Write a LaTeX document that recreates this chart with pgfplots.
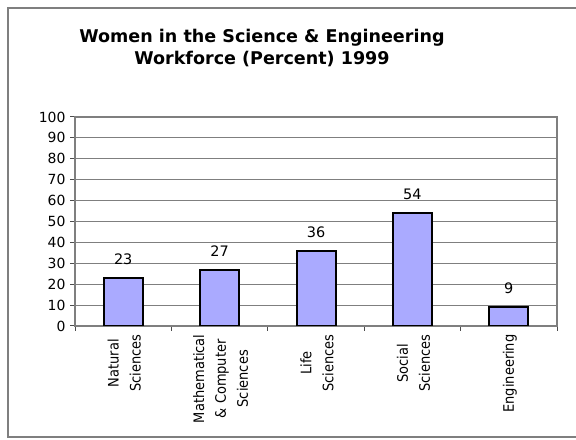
\documentclass[border=0pt]{standalone}
\usepackage{fontspec}
\setmainfont{DejaVu Sans}
\newfontfamily\labfont{DejaVu Sans Condensed}
\usepackage{pgfplots}
\pgfplotsset{compat=1.18}
\usetikzlibrary{calc}
\definecolor{barfill}{HTML}{AAAAFF}
\definecolor{axgray}{HTML}{7F7F7F}
\begin{document}
\begin{tikzpicture}
\begin{axis}[
  name=ax,
  scale only axis, width=482bp, height=209bp,
  /pgf/number format/assume math mode=true,
  ymin=0, ymax=100, ytick={0,10,...,100},
  xmin=0.5, xmax=5.5, xtick={0.5,1.5,2.5,3.5,4.5,5.5},
  x tick label as interval,
  xticklabels={{Natural\\Sciences},{Mathematical\\\& Computer\\Sciences},{Life\\Sciences},{Social\\Sciences},{Engineering}},
  ymajorgrids, grid style={draw=axgray, line width=0.9bp},
  axis line style={draw=axgray, line width=1.2bp},
  tick style={draw=black!70, line width=1bp},
  tick align=outside, major tick length=5bp,
  xtick pos=bottom, ytick pos=left,
  yticklabel style={font=\fontsize{14}{14}\selectfont, xshift=-1bp},
  x tick label style={rotate=90, anchor=east, align=center, font=\labfont\fontsize{14.5}{22}\selectfont, yshift=-1bp},
  ybar, bar width=39bp,
  nodes near coords,
  every node near coord/.append style={font=\fontsize{14.5}{14.5}\selectfont, inner sep=0pt, yshift=12bp},
]
\addplot[fill=barfill, draw=black, line width=2bp] coordinates {(1,23) (2,27) (3,36) (4,54) (5,9)};
\end{axis}
\pgfresetboundingbox
\begin{scope}[x=1bp, y=1bp, shift={($(ax.south west)+(-75bp,-114bp)$)}]
\path[use as bounding box] (0,0) rectangle (576,440);
\draw[draw=axgray, line width=1.3bp] (8,3) rectangle (620,432);
\node[align=center, font=\fontsize{17.6}{22}\selectfont\bfseries, anchor=north, inner sep=0pt] at (262,411) {Women in the Science \& Engineering\\Workforce (Percent) 1999};
\end{scope}
\end{tikzpicture}
\end{document}
